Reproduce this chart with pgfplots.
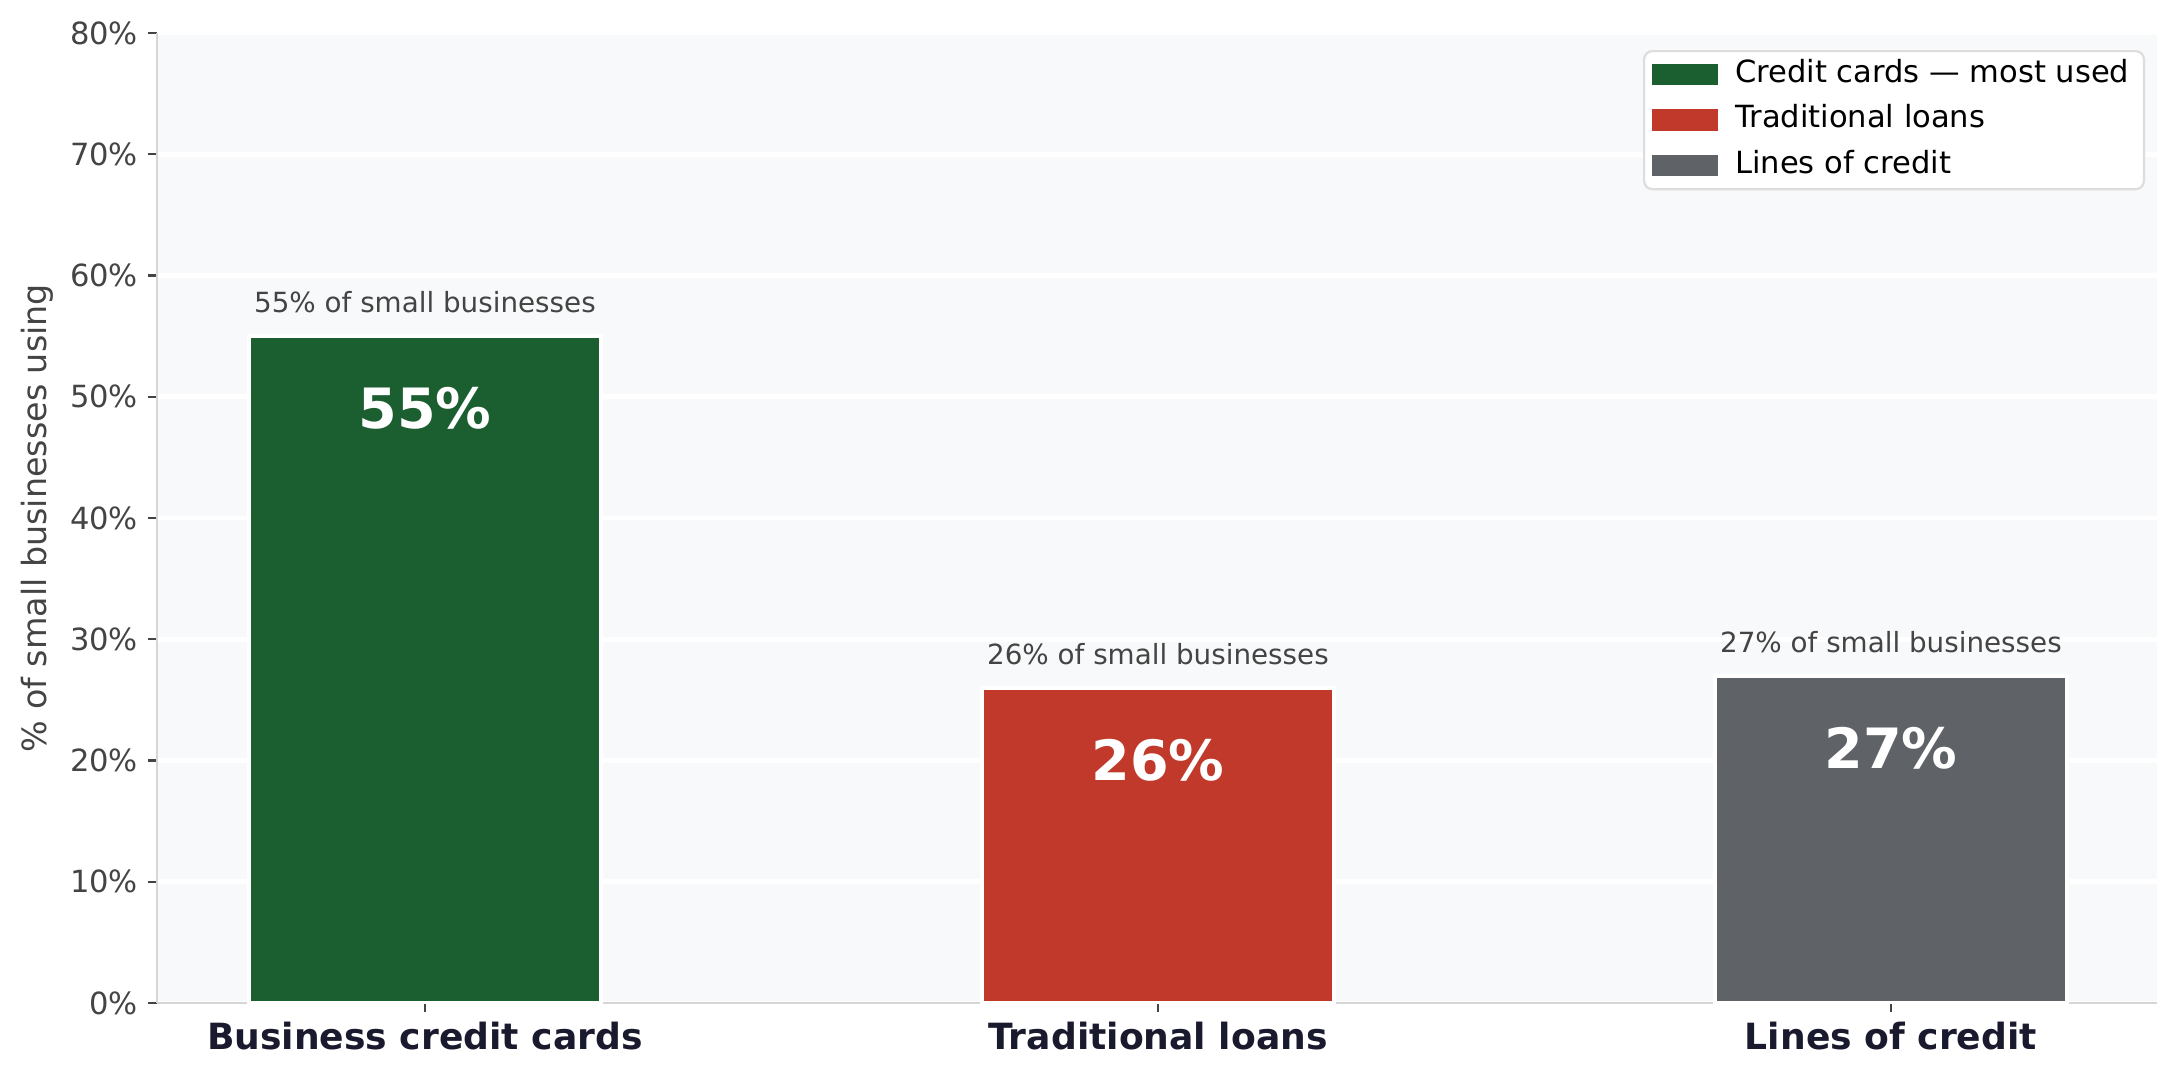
\documentclass[border=0pt]{standalone}
\usepackage{fontspec}
\setmainfont{DejaVu Sans}
\usepackage{pgfplots}
\pgfplotsset{compat=1.18}

\definecolor{cgreen}{HTML}{1B5E30}
\definecolor{cred}{HTML}{C0392B}
\definecolor{cgray}{HTML}{5F6368}
\definecolor{bgcol}{HTML}{F8F9FA}
\definecolor{spine}{HTML}{D6D6D6}
\definecolor{txtgray}{HTML}{444444}
\definecolor{navy}{HTML}{1A1A2E}
\definecolor{legbd}{HTML}{DDDDDD}

\begin{document}
\begin{tikzpicture}
\begin{axis}[
  width=720pt, height=349.2pt,
  scale only axis,
  xmin=-0.3656, xmax=2.363,
  ymin=0, ymax=80,
  axis x line*=bottom, axis y line*=left,
  axis line style={spine, line width=0.8pt},
  axis background/.style={fill=bgcol},
  ymajorgrids,
  grid style={white, line width=1.7pt},
  xtick={0,1,2},
  xticklabels={Business credit cards, Traditional loans, Lines of credit},
  xticklabel style={font=\bfseries\fontsize{13}{15}\selectfont, text=navy},
  ytick={0,10,...,80},
  yticklabels={0\%,10\%,20\%,30\%,40\%,50\%,60\%,70\%,80\%},
  yticklabel style={font=\fontsize{11}{13}\selectfont, text=txtgray},
  tick align=outside,
  major tick length=3.3pt,
  tick style={txtgray, line width=0.8pt},
  xtick pos=bottom, ytick pos=left,
  ylabel={\% of small businesses using},
  every axis y label/.style={at={(axis description cs:-0.06,0.5)}, rotate=90, anchor=center,
    font=\fontsize{12}{14}\selectfont, text=txtgray},
  legend cell align=left,
  legend image code/.code={\fill[#1, draw=none, sharp corners] (0pt,-3.85pt) rectangle (23.5pt,3.85pt);
    \path[draw=none, fill=none] (0pt,0pt) -- (27.5pt,0pt);},
  legend style={
    at={(1,1)}, anchor=north east, xshift=-4.3pt, yshift=-6.1pt,
    draw=legbd, line width=0.8pt, fill=white, rounded corners=3pt,
    font=\fontsize{11}{13}\selectfont,
    inner xsep=3pt, inner ysep=2.2pt,
    row sep=3.9pt,
    nodes={inner xsep=2.3pt, inner ysep=1pt, text height=8pt, text depth=2.5pt},
  },
]
\addplot[ybar, bar width=0.48, fill=cgreen, draw=white, line width=1.5pt] coordinates {(0,55)};
\addlegendentry{Credit cards — most used}
\addplot[ybar, bar width=0.48, fill=cred, draw=white, line width=1.5pt] coordinates {(1,26)};
\addlegendentry{Traditional loans}
\addplot[ybar, bar width=0.48, fill=cgray, draw=white, line width=1.5pt] coordinates {(2,27)};
\addlegendentry{Lines of credit}

\node[anchor=base, yshift=8.4pt, font=\fontsize{10}{12}\selectfont, text=txtgray] at (axis cs:0,55) {55\% of small businesses};
\node[anchor=base, yshift=8.4pt, font=\fontsize{10}{12}\selectfont, text=txtgray] at (axis cs:1,26) {26\% of small businesses};
\node[anchor=base, yshift=8.4pt, font=\fontsize{10}{12}\selectfont, text=txtgray] at (axis cs:2,27) {27\% of small businesses};

\node[anchor=base, yshift=-33.3pt, font=\bfseries\fontsize{20}{24}\selectfont, text=white] at (axis cs:0,55) {55\%};
\node[anchor=base, yshift=-33.3pt, font=\bfseries\fontsize{20}{24}\selectfont, text=white] at (axis cs:1,26) {26\%};
\node[anchor=base, yshift=-33.3pt, font=\bfseries\fontsize{20}{24}\selectfont, text=white] at (axis cs:2,27) {27\%};
\end{axis}
\path ([xshift=-56.5pt,yshift=-26.6pt]current axis.south west) rectangle ([xshift=7.2pt,yshift=11.9pt]current axis.north east);
\end{tikzpicture}
\end{document}
